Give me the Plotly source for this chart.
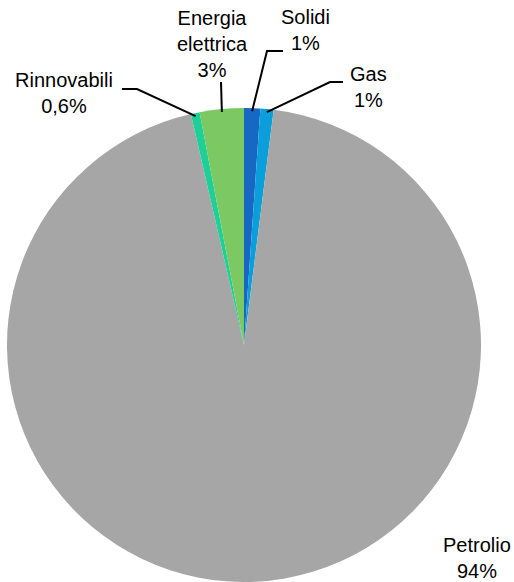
import numpy as np
import plotly.graph_objects as go

W, H = 514, 582

categories = ["Solidi", "Gas", "Petrolio", "Rinnovabili", "Energia elettrica"]
values = [1.1, 0.9, 94.4, 0.6, 3.0]
pct_labels = ["1%", "1%", "94%", "0,6%", "3%"]
label_text = ["Solidi", "Gas", "Petrolio", "Rinnovabili", "Energia<br>elettrica"]
colors = ["#1668c2", "#0a9fdb", "#a6a6a6", "#1ecf97", "#7cc964"]

# pie geometry in pixels (centre + radius)
cx, cy, r = 244, 346, 237

fig = go.Figure()

fig.add_trace(
    go.Pie(
        labels=categories,
        values=values,
        sort=False,
        direction="clockwise",
        rotation=0,
        textinfo="none",
        marker=dict(colors=colors, line=dict(width=0)),
        hole=0,
        domain=dict(x=[(cx - r) / W, (cx + r) / W], y=[0, 2 * r / H]),
        showlegend=False,
    )
)


def px2paper(x, y):
    return x / W, 1 - y / H


# slice mid angles from the data
frac = np.array(values) / np.sum(values)
mid = np.cumsum(frac) - frac / 2
ang = mid * 2 * np.pi
edge_x = cx + (r - 2) * np.sin(ang)
edge_y = cy - (r - 2) * np.cos(ang)

# label placement: (text x, text y, elbow points of leader)
label_pos = {
    "Solidi": (305, 30, [(283, 51), (267, 51)]),
    "Gas": (368, 87, [(343, 82), (330, 82)]),
    "Petrolio": (477, 558, None),
    "Rinnovabili": (64, 93, [(122, 89), (137, 89)]),
    "Energia elettrica": (212, 44, [(221, 82)]),
}

for i, cat in enumerate(categories):
    tx, ty, elbow = label_pos[cat]
    x, y = px2paper(tx, ty)
    fig.add_annotation(
        x=x,
        y=y,
        xref="paper",
        yref="paper",
        text=label_text[i] + "<br>" + pct_labels[i],
        showarrow=False,
        xanchor="center",
        yanchor="middle",
        align="center",
        font=dict(family="Liberation Sans, Arial", size=20, color="#000000"),
    )
    if elbow:
        pts = elbow + [(edge_x[i], edge_y[i])]
        path = "M " + " L ".join(
            f"{px2paper(a, b)[0]},{px2paper(a, b)[1]}" for a, b in pts
        )
        fig.add_shape(
            type="path",
            path=path,
            xref="paper",
            yref="paper",
            line=dict(color="#000000", width=2),
        )

fig.update_layout(
    width=W,
    height=H,
    margin=dict(l=0, r=0, t=0, b=0),
    paper_bgcolor="#ffffff",
    plot_bgcolor="#ffffff",
)

# drop the browser's default body margin so the figure sits at 0,0
fig.write_html(
    "out.html",
    config={"displayModeBar": False},
    post_script="document.body.style.margin='0';",
)
